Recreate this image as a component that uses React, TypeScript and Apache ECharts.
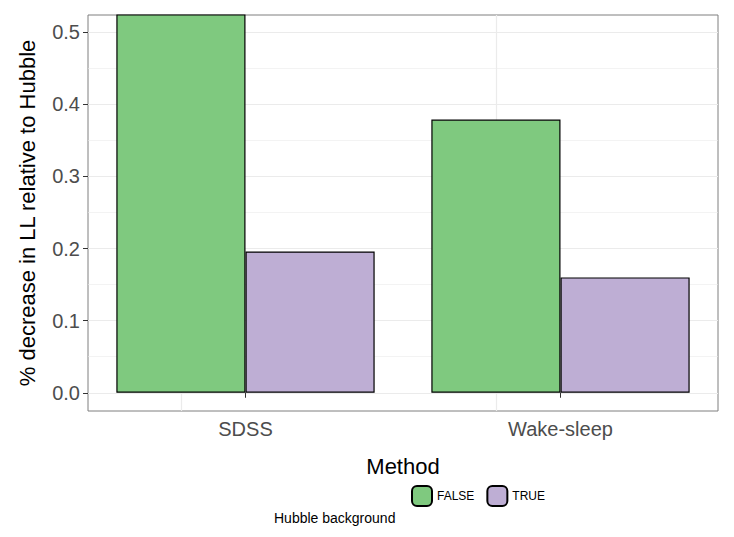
import React, { useEffect, useRef } from 'react';
import * as echarts from 'echarts';

const categories = ['SDSS', 'Wake-sleep'];
const falseValues = [0.56, 0.379];
const trueValues = [0.196, 0.16];
const majorTicks = [0, 0.1, 0.2, 0.3, 0.4, 0.5];
const minorTicks = [0.05, 0.15, 0.25, 0.35, 0.45];

const App: React.FC = () => {
  const chartRef = useRef<HTMLDivElement>(null);

  useEffect(() => {
    const chart = echarts.init(chartRef.current!, null, { renderer: 'svg' });
    const grid = (v: number, w: number) => ({ yAxis: v, lineStyle: { color: '#ebebeb', width: w, type: 'solid' as const } });
    chart.setOption({
      animation: false,
      textStyle: { fontFamily: 'Liberation Sans, Arial, sans-serif' },
      grid: { left: 75, right: 8, top: 7, bottom: 118, show: true, borderColor: '#7f7f7f', borderWidth: 1 },
      legend: {
        bottom: 17, left: 398, itemWidth: 20, itemHeight: 20, itemGap: 12,
        textStyle: { fontSize: 12, color: '#000' },
        data: ['FALSE', 'TRUE'],
      },
      graphic: [{ type: 'text', left: 266, top: 503, style: { text: 'Hubble background', fontSize: 14, fill: '#000', fontFamily: 'Liberation Sans, Arial, sans-serif' } }],
      xAxis: {
        type: 'category', data: categories,
        name: 'Method', nameLocation: 'middle', nameGap: 44,
        nameTextStyle: { fontSize: 22, color: '#000' },
        axisLine: { show: false },
        axisTick: { show: true, alignWithLabel: true, lineStyle: { color: '#333' } },
        axisLabel: { fontSize: 20, color: '#4d4d4d', margin: 8 },
      },
      yAxis: {
        type: 'value', min: -0.0253, max: 0.524,
        name: '% decrease in LL relative to Hubble', nameLocation: 'middle', nameGap: 50,
        nameTextStyle: { fontSize: 22, color: '#000' },
        axisLine: { show: false },
        splitLine: { show: false },
        axisTick: { show: true, customValues: majorTicks, lineStyle: { color: '#333' } },
        axisLabel: { fontSize: 20, color: '#4d4d4d', customValues: majorTicks, formatter: (v: number) => v.toFixed(1) },
      },
      series: [
        {
          name: 'FALSE', type: 'bar', data: falseValues, barGap: '0%', barCategoryGap: '18%',
          itemStyle: { color: '#7fc97f', borderColor: '#000', borderWidth: 1.2 },
          markLine: {
            silent: true, symbol: 'none', label: { show: false }, z: 0,
            data: [
              ...minorTicks.map((v) => grid(v, 0.6)),
              ...majorTicks.map((v) => grid(v, 1.2)),
              ...categories.map((c) => ({ xAxis: c, lineStyle: { color: '#ebebeb', width: 1.2, type: 'solid' as const } })),
            ],
          },
        },
        {
          name: 'TRUE', type: 'bar', data: trueValues,
          itemStyle: { color: '#beaed4', borderColor: '#000', borderWidth: 1.2 },
        },
      ],
    });
    return () => chart.dispose();
  }, []);

  return <div ref={chartRef} style={{ width: '718px', height: '521px' }} />;
};

export default App;
